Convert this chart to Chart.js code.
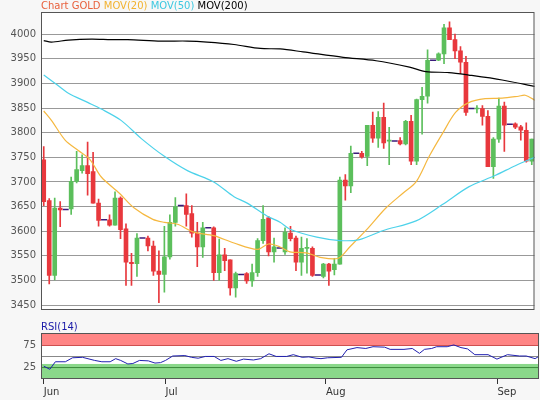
<!DOCTYPE html>
<html><head><meta charset="utf-8">
<script src="https://cdn.jsdelivr.net/npm/chart.js@4"></script>
<style>
body{margin:0;background:#f7f7f7;width:540px;height:400px;overflow:hidden;font-family:"DejaVu Sans",sans-serif}
#t{position:absolute;left:41px;top:0px;font-size:10px;line-height:12px;white-space:nowrap}
#r{position:absolute;left:41px;top:321px;font-size:10px;line-height:12px;color:#1a1aa8}
#m{position:absolute;left:0;top:0;width:540px;height:321px}
#s{position:absolute;left:0;top:321px;width:540px;height:79px}
</style></head><body>
<div id="m"><canvas id="c1"></canvas></div>
<div id="s"><canvas id="c2"></canvas></div>
<div id="t"><span style="color:#e8603c">Chart GOLD</span> <span style="color:#f2b230">MOV(20)</span> <span style="color:#3cc8e0">MOV(50)</span> <span style="color:#000">MOV(200)</span></div>
<div id="r">RSI(14)</div>
<script>
const opens =[3745,3662,3510,3647,3644,3645,3701,3723,3733,3721,3657,3623,3623,3612,3667,3605,3537,3534,3586,3586,3570,3519,3512,3548,3618,3652,3652,3636,3596,3568,3607,3607,3516,3552,3542,3485,3512,3514,3499,3516,3581,3627,3558,3566,3558,3596,3586,3537,3565,3565,3511,3508,3533,3522,3533,3704,3692,3758,3758,3752,3815,3789,3831,3783,3783,3784,3777,3823,3742,3867,3874,3947,3947,3960,4013,3989,3966,3943,3849,3848,3849,3833,3731,3787,3854,3817,3818,3812,3805,3742];
const highs =[3772,3666,3667,3660,3644,3710,3762,3755,3781,3760,3665,3623,3633,3680,3670,3615,3555,3595,3586,3590,3580,3560,3610,3633,3668,3652,3676,3652,3618,3618,3607,3609,3584,3565,3542,3517,3512,3516,3533,3585,3652,3630,3586,3566,3607,3610,3590,3588,3585,3568,3511,3535,3535,3545,3710,3715,3773,3758,3762,3815,3842,3843,3860,3811,3783,3790,3825,3835,3868,3892,3968,3947,3962,4020,4025,4000,3975,3955,3849,3855,3855,3845,3790,3870,3862,3817,3820,3815,3820,3787];
const lows  =[3652,3493,3501,3609,3644,3634,3698,3718,3673,3657,3610,3623,3610,3612,3585,3490,3490,3508,3586,3560,3510,3455,3476,3543,3610,3652,3610,3588,3528,3547,3607,3500,3500,3520,3470,3466,3512,3494,3488,3508,3575,3550,3537,3566,3553,3580,3520,3510,3515,3508,3511,3505,3490,3511,3533,3663,3678,3758,3748,3733,3780,3770,3768,3735,3783,3775,3775,3735,3735,3797,3860,3947,3946,3940,3989,3950,3920,3835,3849,3840,3815,3731,3707,3780,3762,3817,3808,3785,3740,3735];
const closes=[3660,3510,3647,3643,3644,3701,3725,3733,3717,3657,3622,3623,3612,3667,3603,3537,3534,3586,3586,3570,3519,3512,3548,3618,3650,3652,3634,3596,3568,3607,3607,3516,3552,3540,3485,3514,3512,3499,3516,3581,3624,3558,3568,3566,3598,3585,3537,3565,3567,3510,3511,3533,3519,3533,3704,3692,3758,3758,3751,3815,3789,3831,3779,3785,3783,3777,3823,3742,3867,3874,3947,3947,3960,4013,3989,3966,3943,3841,3849,3850,3833,3731,3787,3854,3815,3817,3811,3805,3742,3787];
const ma20X=[0,1.4,3.9,6.3,8.4,10.5,13.8,16.5,19.9,22.0,24.4,27.4,31.0,34.7,38.9,41.0,43.1,44.9,47.9,50.4,53.7,55.8,58.8,62.4,65.5,67.9,70.3,72.7,75.1,77.5,80.5,83.6,86.6,87.8,89.9];
const ma20 =[3844,3825,3785,3764,3746,3710,3677,3647,3624,3618,3614,3598,3591,3576,3563,3574,3568,3558,3556,3547,3545,3568,3602,3647,3677,3700,3752,3798,3841,3861,3869,3870,3874,3876,3864];
const ma50X=[0,2.1,4.5,8.1,10.5,14.1,17.8,22.0,26.2,31.0,34.7,37.1,40.7,43.1,44.9,49.8,54.0,57.6,61.8,67.9,72.7,77.5,82.3,86.0,89.9];
const ma50 =[3917,3900,3880,3861,3848,3825,3788,3752,3723,3700,3670,3657,3631,3618,3604,3588,3581,3583,3601,3621,3654,3690,3713,3733,3752];
const ma200X=[0,1.4,4.5,8.7,12.3,15.3,21.4,26.2,29.8,34.7,39.5,43.1,47.3,54.6,60.6,66.7,69.7,73.9,77.5,83.6,89.6];
const ma200 =[3987,3984,3988,3990,3989,3989,3986,3986,3984,3979,3971,3970,3964,3953,3946,3933,3924,3922,3917,3907,3894];
const rsiX=[0,1.1,2.1,3.9,5.2,7.0,9.2,10.5,12.0,13.0,13.9,15.2,16.1,17.3,18.9,20.1,21.1,22.0,23.3,25.5,26.7,27.9,29.2,30.8,32.0,33.3,34.8,36.1,37.9,39.2,40.7,42.0,43.9,45.1,46.7,47.9,49.2,50.1,51.3,53.8,54.8,56.6,58.2,59.5,61.6,62.6,65.1,66.6,67.9,68.8,70.1,71.0,72.9,74.1,75.4,76.6,77.9,80.3,81.9,83.8,86.0,87.2,88.8,89.7];
const rsi =[27,20,37,37,46,47,40,37,37,44,40,32,33,40,39,34,35,40,50,51,47,45,49,49,40,44,38,43,41,44,55,49,49,53,47,48,45,44,46,47,64,69,67,71,70,65,65,67,56,65,67,71,71,75,69,66,53,53,43,53,50,50,44,51];
const yTicks=[3450,3500,3550,3600,3650,3700,3750,3800,3850,3900,3950,4000];
const monthIdx=[0,22,51,82];
const monthLbl=['Jun','Jul','Aug','Sep'];

const UP='#5cbf5c', DN='#e8383d';
const idx=opens.map((_,i)=>i);
const isDoji=idx.map(i=>opens[i]===closes[i]);
const col=idx.map(i=>closes[i]>=opens[i]?UP:DN);
const pts=(xs,ys)=>xs.map((x,i)=>({x,y:ys[i]}));
const frame={id:'frame',
 beforeDraw(c){const a=c.chartArea,x=c.ctx;x.save();x.fillStyle='#fff';x.fillRect(a.left,a.top,a.right-a.left,a.bottom-a.top);x.restore();},
 afterDraw(c){const a=c.chartArea,x=c.ctx;x.save();x.strokeStyle='#555';x.lineWidth=1;x.strokeRect(a.left+0.5,a.top+0.5,a.right-a.left-1,a.bottom-a.top-1);x.restore();}};
const xCommon={type:'linear',min:-0.5,max:89.5,offset:false};
const fitY=s=>{s.width=41;};
const wickIdx=idx.filter(i=>!isDoji[i]||highs[i]!==lows[i]);
const bodyIdx=idx.filter(i=>!isDoji[i]);

new Chart(document.getElementById('c1'),{
 data:{datasets:[
  {type:'line',data:pts(ma200X,ma200),borderColor:'#000',borderWidth:1.2,pointRadius:0,tension:0.3},
  {type:'line',data:pts(ma50X,ma50),borderColor:'#4dd2ea',borderWidth:1.2,pointRadius:0,tension:0.3},
  {type:'line',data:pts(ma20X,ma20),borderColor:'#f5b840',borderWidth:1.2,pointRadius:0,tension:0.3},
  {type:'bar',data:wickIdx.map(i=>({x:i,y:[lows[i],highs[i]]})),backgroundColor:wickIdx.map(i=>col[i]),barThickness:1,grouped:false},
  {type:'bar',data:bodyIdx.map(i=>({x:i,y:[opens[i],closes[i]]})),backgroundColor:bodyIdx.map(i=>col[i]),barThickness:4,grouped:false},
  {type:'scatter',data:idx.filter(i=>isDoji[i]).map(i=>({x:i,y:closes[i]})),pointStyle:'line',pointRadius:3,borderColor:'#3a1a7a',borderWidth:1.5}
 ]},
 options:{responsive:true,maintainAspectRatio:false,animation:false,
  layout:{padding:{top:12,right:1,bottom:2,left:0}},
  plugins:{legend:{display:false},tooltip:{enabled:false}},
  scales:{x:{...xCommon,display:false},
   y:{min:3440,max:4045,afterFit:fitY,afterBuildTicks:s=>{s.ticks=yTicks.map(v=>({value:v}));},
    ticks:{color:'#555',font:{family:'DejaVu Sans',size:10},padding:5,callback:v=>String(v)},
    grid:{color:'#999',drawTicks:false},border:{display:false}}}},
 plugins:[frame]});

const bands={id:'bands',beforeDatasetsDraw(c){const a=c.chartArea,x=c.ctx,y=c.scales.y;x.save();
  const y100=y.getPixelForValue(102),y75=y.getPixelForValue(75),y30=y.getPixelForValue(32),y0=y.getPixelForValue(-2);
  x.fillStyle='#ff8585';x.fillRect(a.left,y100,a.right-a.left,y75-y100);
  x.fillStyle='#8ad88a';x.fillRect(a.left,y30,a.right-a.left,y0-y30);
  x.lineWidth=1;
  x.strokeStyle='#cc4444';x.beginPath();x.moveTo(a.left,y75+0.5);x.lineTo(a.right,y75+0.5);x.stroke();
  x.strokeStyle='#888';const y50=y.getPixelForValue(50);x.beginPath();x.moveTo(a.left,y50+0.5);x.lineTo(a.right,y50+0.5);x.stroke();
  x.strokeStyle='#3a8a3a';const y25=y.getPixelForValue(25);x.beginPath();x.moveTo(a.left,y25+0.5);x.lineTo(a.right,y25+0.5);x.stroke();
  x.restore();}};

new Chart(document.getElementById('c2'),{
 type:'line',
 data:{datasets:[{data:pts(rsiX,rsi),borderColor:'#2020b0',borderWidth:1,pointRadius:0,tension:0}]},
 options:{responsive:true,maintainAspectRatio:false,animation:false,
  layout:{padding:{top:12,right:1,bottom:0,left:0}},
  plugins:{legend:{display:false},tooltip:{enabled:false}},
  scales:{x:{...xCommon,afterBuildTicks:s=>{s.ticks=monthIdx.map(v=>({value:v}));},
    ticks:{color:'#333',font:{family:'DejaVu Sans',size:10},align:'start',padding:2,callback:(v)=>monthLbl[monthIdx.indexOf(v)]},
    grid:{drawOnChartArea:false,drawTicks:true,tickLength:5,color:'#333'},border:{display:false}},
   y:{min:-2,max:102,afterFit:fitY,afterBuildTicks:s=>{s.ticks=[25,75].map(v=>({value:v}));},
    ticks:{color:'#555',font:{family:'DejaVu Sans',size:10},padding:5},
    grid:{display:false,drawTicks:false},border:{display:false}}}},
 plugins:[frame,bands]});
</script></body></html>
